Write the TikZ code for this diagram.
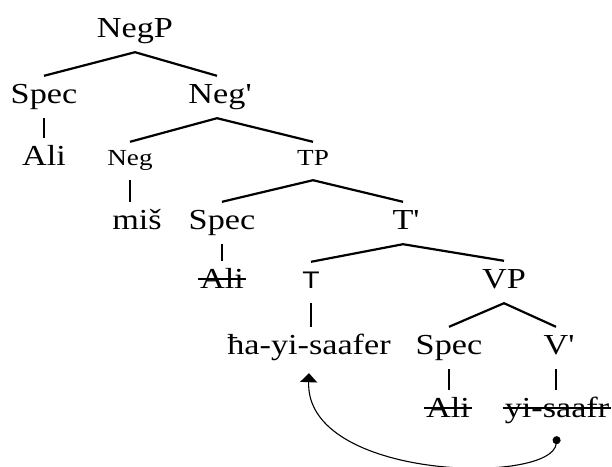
\documentclass[tikz,border=0pt]{standalone}
\usepackage{fontspec}
\setmainfont{Liberation Serif}[FakeStretch=1.18]
\newfontfamily\tsans{Liberation Sans}[FakeStretch=1.18]
\usetikzlibrary{arrows.meta}
\newcommand{\pr}{\rlap{\textquotesingle}}

\tikzset{
	cat/.style={anchor=base, inner xsep=0pt, inner ysep=8pt, text height=19pt, text depth=7pt, font=\fontsize{29}{32}\selectfont},
	smallcat/.style={cat, text height=15pt, font=\fontsize{23}{26}\selectfont},
	sanscat/.style={cat, text height=18pt, font=\tsans\fontsize{24}{26}\selectfont},
	branch/.style={line width=2.2pt},
	strike/.style={line width=1.5pt},
	movearrow/.style={line width=1.1pt, {Circle[length=8pt]}-{Triangle[width=17pt,length=9pt]}},
}

\begin{document}
\begin{tikzpicture}[x=1pt,y=-1pt]
	\useasboundingbox (0,0) rectangle (612,466);
	
	%NegP level
	\node[cat] (negp) at (135,37) {NegP};
	\node[cat] (spec1) at (44,103) {Spec};
	\node[cat] (negbar) at (217,103) {Neg\pr};
	\node[cat] (ali1) at (44,165) {Ali};
	\node[smallcat] (neg) at (130,165) {Neg};
	\node[smallcat] (tp) at (313,165) {TP};
	\node[cat] (mis) at (137,229) {miš};
	
	%TP level
	\node[cat] (spec2) at (222,229) {Spec};
	\node[cat] (tbar) at (403,229) {T\pr};
	\node[cat] (ali2) at (222,288) {Ali};
	\node[sanscat] (t) at (311,288) {T};
	\node[cat] (vp) at (504,288) {VP};
	\node[cat] (ha) at (309,354) {ħa-yi-saafer};
	
	%VP level
	\node[cat] (spec3) at (449,354) {Spec};
	\node[cat] (vbar) at (556,354) {V\pr};
	\node[cat] (ali3) at (448,417) {Ali};
	\node[cat] (yisaafr) at (557,417) {yi-saafr};
	
	%branches
	\draw[branch] (spec1.north) -- (negp.south) -- (negbar.north);
	\draw[branch] (neg.north) -- (negbar.south) -- (tp.north);
	\draw[branch] (spec2.north) -- (tp.south) -- (tbar.north);
	\draw[branch] (t.north) -- (tbar.south) -- (vp.north);
	\draw[branch] (spec3.north) -- (vp.south) -- (vbar.north);
	
	%unary lines
	\draw[branch] (spec1.south) -- (spec1.south |- ali1.north);
	\draw[branch] (neg.south) -- (neg.south |- mis.north);
	\draw[branch] (spec2.south) -- (spec2.south |- ali2.north);
	\draw[branch] (t.south) -- (t.south |- ha.north);
	\draw[branch] (spec3.south) -- (spec3.south |- ali3.north);
	\draw[branch] (vbar.south) -- (vbar.south |- yisaafr.north);
	
	%struck-out copies
	\draw[strike] ([xshift=-2pt,yshift=9pt]ali2.base west) -- ([xshift=2pt,yshift=9pt]ali2.base east);
	\draw[strike] ([xshift=-2pt,yshift=9pt]ali3.base west) -- ([xshift=2pt,yshift=9pt]ali3.base east);
	\draw[strike] ([xshift=-2pt,yshift=9pt]yisaafr.base west) -- ([xshift=2pt,yshift=9pt]yisaafr.base east);
	
	%head movement V -> T
	\draw[movearrow] ([yshift=-4pt]yisaafr.south) .. controls +(-5,49) and +(-4,107) .. ([yshift=-4pt]ha.south);
\end{tikzpicture}
\end{document}
